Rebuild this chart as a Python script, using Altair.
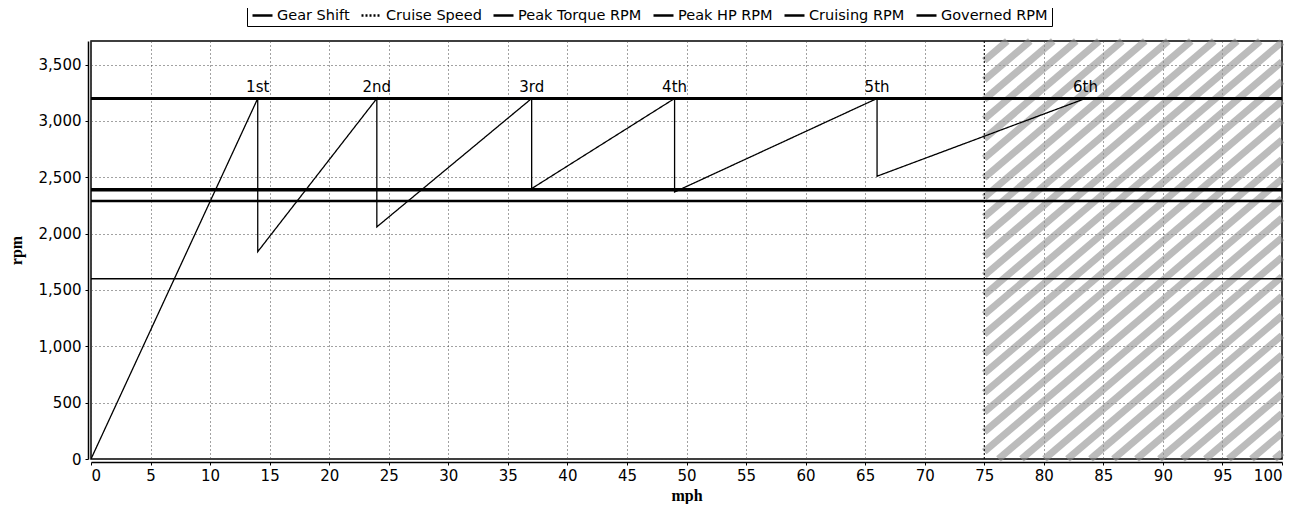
import altair as alt
import pandas as pd
import numpy as np

# ---- data ----
gear_mph = [0, 14, 14, 24, 24, 37, 37, 49, 49, 66, 66, 83.5]
gear_rpm = [0, 3200, 1840, 3200, 2060, 3200, 2400, 3200, 2370, 3200, 2510, 3200]

gear_labels = ["1st", "2nd", "3rd", "4th", "5th", "6th"]
gear_label_mph = [14, 24, 37, 49, 66, 83.5]
gear_label_rpm = [3200, 3200, 3200, 3200, 3200, 3200]

series_names = ["Gear Shift", "Cruise Speed", "Peak Torque RPM", "Peak HP RPM", "Cruising RPM", "Governed RPM"]
series_widths = [1.3, 1, 1.6, 3.5, 2.5, 3]
series_dash = [[1, 0], [2, 2], [1, 0], [1, 0], [1, 0], [1, 0]]
level_names = ["Peak Torque RPM", "Peak HP RPM", "Cruising RPM", "Governed RPM"]
level_rpm = [1600, 2390, 2290, 3200]
cruise_speed_mph = 75

x_min, x_max = 0, 100
y_min, y_max = 0, 3710
hatch_start = 75

# ---- build tables ----
rows = []
for i, (m, r) in enumerate(zip(gear_mph, gear_rpm)):
    rows.append({"mph": m, "rpm": r, "series": "Gear Shift", "idx": i})
rows.append({"mph": cruise_speed_mph, "rpm": y_min, "series": "Cruise Speed", "idx": 0})
rows.append({"mph": cruise_speed_mph, "rpm": y_max, "series": "Cruise Speed", "idx": 1})
for name, r in zip(level_names, level_rpm):
    rows.append({"mph": x_min, "rpm": r, "series": name, "idx": 0})
    rows.append({"mph": x_max, "rpm": r, "series": name, "idx": 1})
lines_df = pd.DataFrame(rows)

labels_df = pd.DataFrame({"mph": gear_label_mph, "rpm": gear_label_rpm, "label": gear_labels})

# hatch stripes (decorative) clipped to the hatched band
W, H = 1191, 418
px_per_mph = W / (x_max - x_min)
px_per_rpm = H / (y_max - y_min)
slope = 0.85 * px_per_mph / px_per_rpm  # rpm per mph
spacing = 23 / px_per_mph
segs = []
x0 = hatch_start - (y_max - y_min) / slope - spacing
while x0 < x_max:
    xa = max(hatch_start, x0)
    xb = min(x_max, x0 + (y_max - y_min) / slope)
    if xb > xa:
        segs.append({"x": xa, "y": slope * (xa - x0), "x2": xb, "y2": slope * (xb - x0)})
    x0 += spacing
hatch_df = pd.DataFrame(segs)

xs = alt.Scale(domain=[x_min, x_max], nice=False, zero=False)
ys = alt.Scale(domain=[y_min, y_max], nice=False, zero=False)

FONT = "DejaVu Sans"

x_axis = alt.Axis(values=list(range(0, 101, 5)), title="mph", offset=3, grid=True,
                  gridDash=[1, 3], gridColor="#444", gridWidth=1,
                  domainColor="black", domainWidth=1.5, tickColor="black", tickSize=3,
                  labelFont=FONT, labelFontSize=15, labelColor="black", labelPadding=3,
                  titleFont="Liberation Serif", titleFontWeight="bold", titleFontSize=16,
                  titleColor="black", titlePadding=4)
y_axis = alt.Axis(values=list(range(0, 3501, 500)), format=",.0f", title="rpm", offset=3, grid=True,
                  gridDash=[1, 3], gridColor="#444", gridWidth=1,
                  domainColor="black", domainWidth=1.5, tickColor="black", tickSize=3,
                  labelFont=FONT, labelFontSize=15, labelColor="black", labelPadding=4,
                  titleFont="Liberation Serif", titleFontWeight="bold", titleFontSize=16,
                  titleColor="black", titlePadding=14)

hatch = alt.Chart(hatch_df).mark_rule(color="#8f8f8f", strokeWidth=7, opacity=0.6).encode(
    x=alt.X("x:Q", scale=xs, axis=x_axis),
    y=alt.Y("y:Q", scale=ys, axis=y_axis),
    x2="x2:Q", y2="y2:Q",
)

legend = alt.Legend(title=None, orient="none", direction="horizontal", legendX=156, legendY=-41,
                    symbolType="stroke", symbolSize=400, symbolStrokeWidth=2.5,
                    labelFont=FONT, labelFontSize=14.5, labelColor="black", columnPadding=6,
                    labelOffset=3, strokeColor="black", padding=4, columns=6)

color_enc = alt.Color("series:N", scale=alt.Scale(domain=series_names, range=["black"] * 6),
                      legend=legend, sort=series_names)
dash_enc = alt.StrokeDash("series:N", scale=alt.Scale(domain=series_names, range=series_dash),
                          legend=legend, sort=series_names)

line_layers = []
for name, w in zip(series_names, series_widths):
    line_layers.append(
        alt.Chart(lines_df).transform_filter(alt.datum.series == name)
        .mark_line(strokeWidth=w, clip=True)
        .encode(
            x=alt.X("mph:Q", scale=xs, axis=x_axis),
            y=alt.Y("rpm:Q", scale=ys, axis=y_axis),
            order="idx:Q",
            color=color_enc,
            strokeDash=dash_enc,
        )
    )

text = alt.Chart(labels_df).mark_text(font=FONT, fontSize=15, baseline="bottom", align="center", dy=-3, color="black").encode(
    x=alt.X("mph:Q", scale=xs, axis=x_axis),
    y=alt.Y("rpm:Q", scale=ys, axis=y_axis),
    text="label:N",
)

chart = alt.layer(hatch, *line_layers, text).properties(
    width=W, height=H,
    background="white",
    autosize=alt.AutoSizeParams(type="none"),
    padding={"left": 83, "top": 33, "right": 10, "bottom": 45},
).configure_view(stroke="black", strokeWidth=1.5)

chart.save("out.html", embed_options={"renderer": "svg", "actions": False})
